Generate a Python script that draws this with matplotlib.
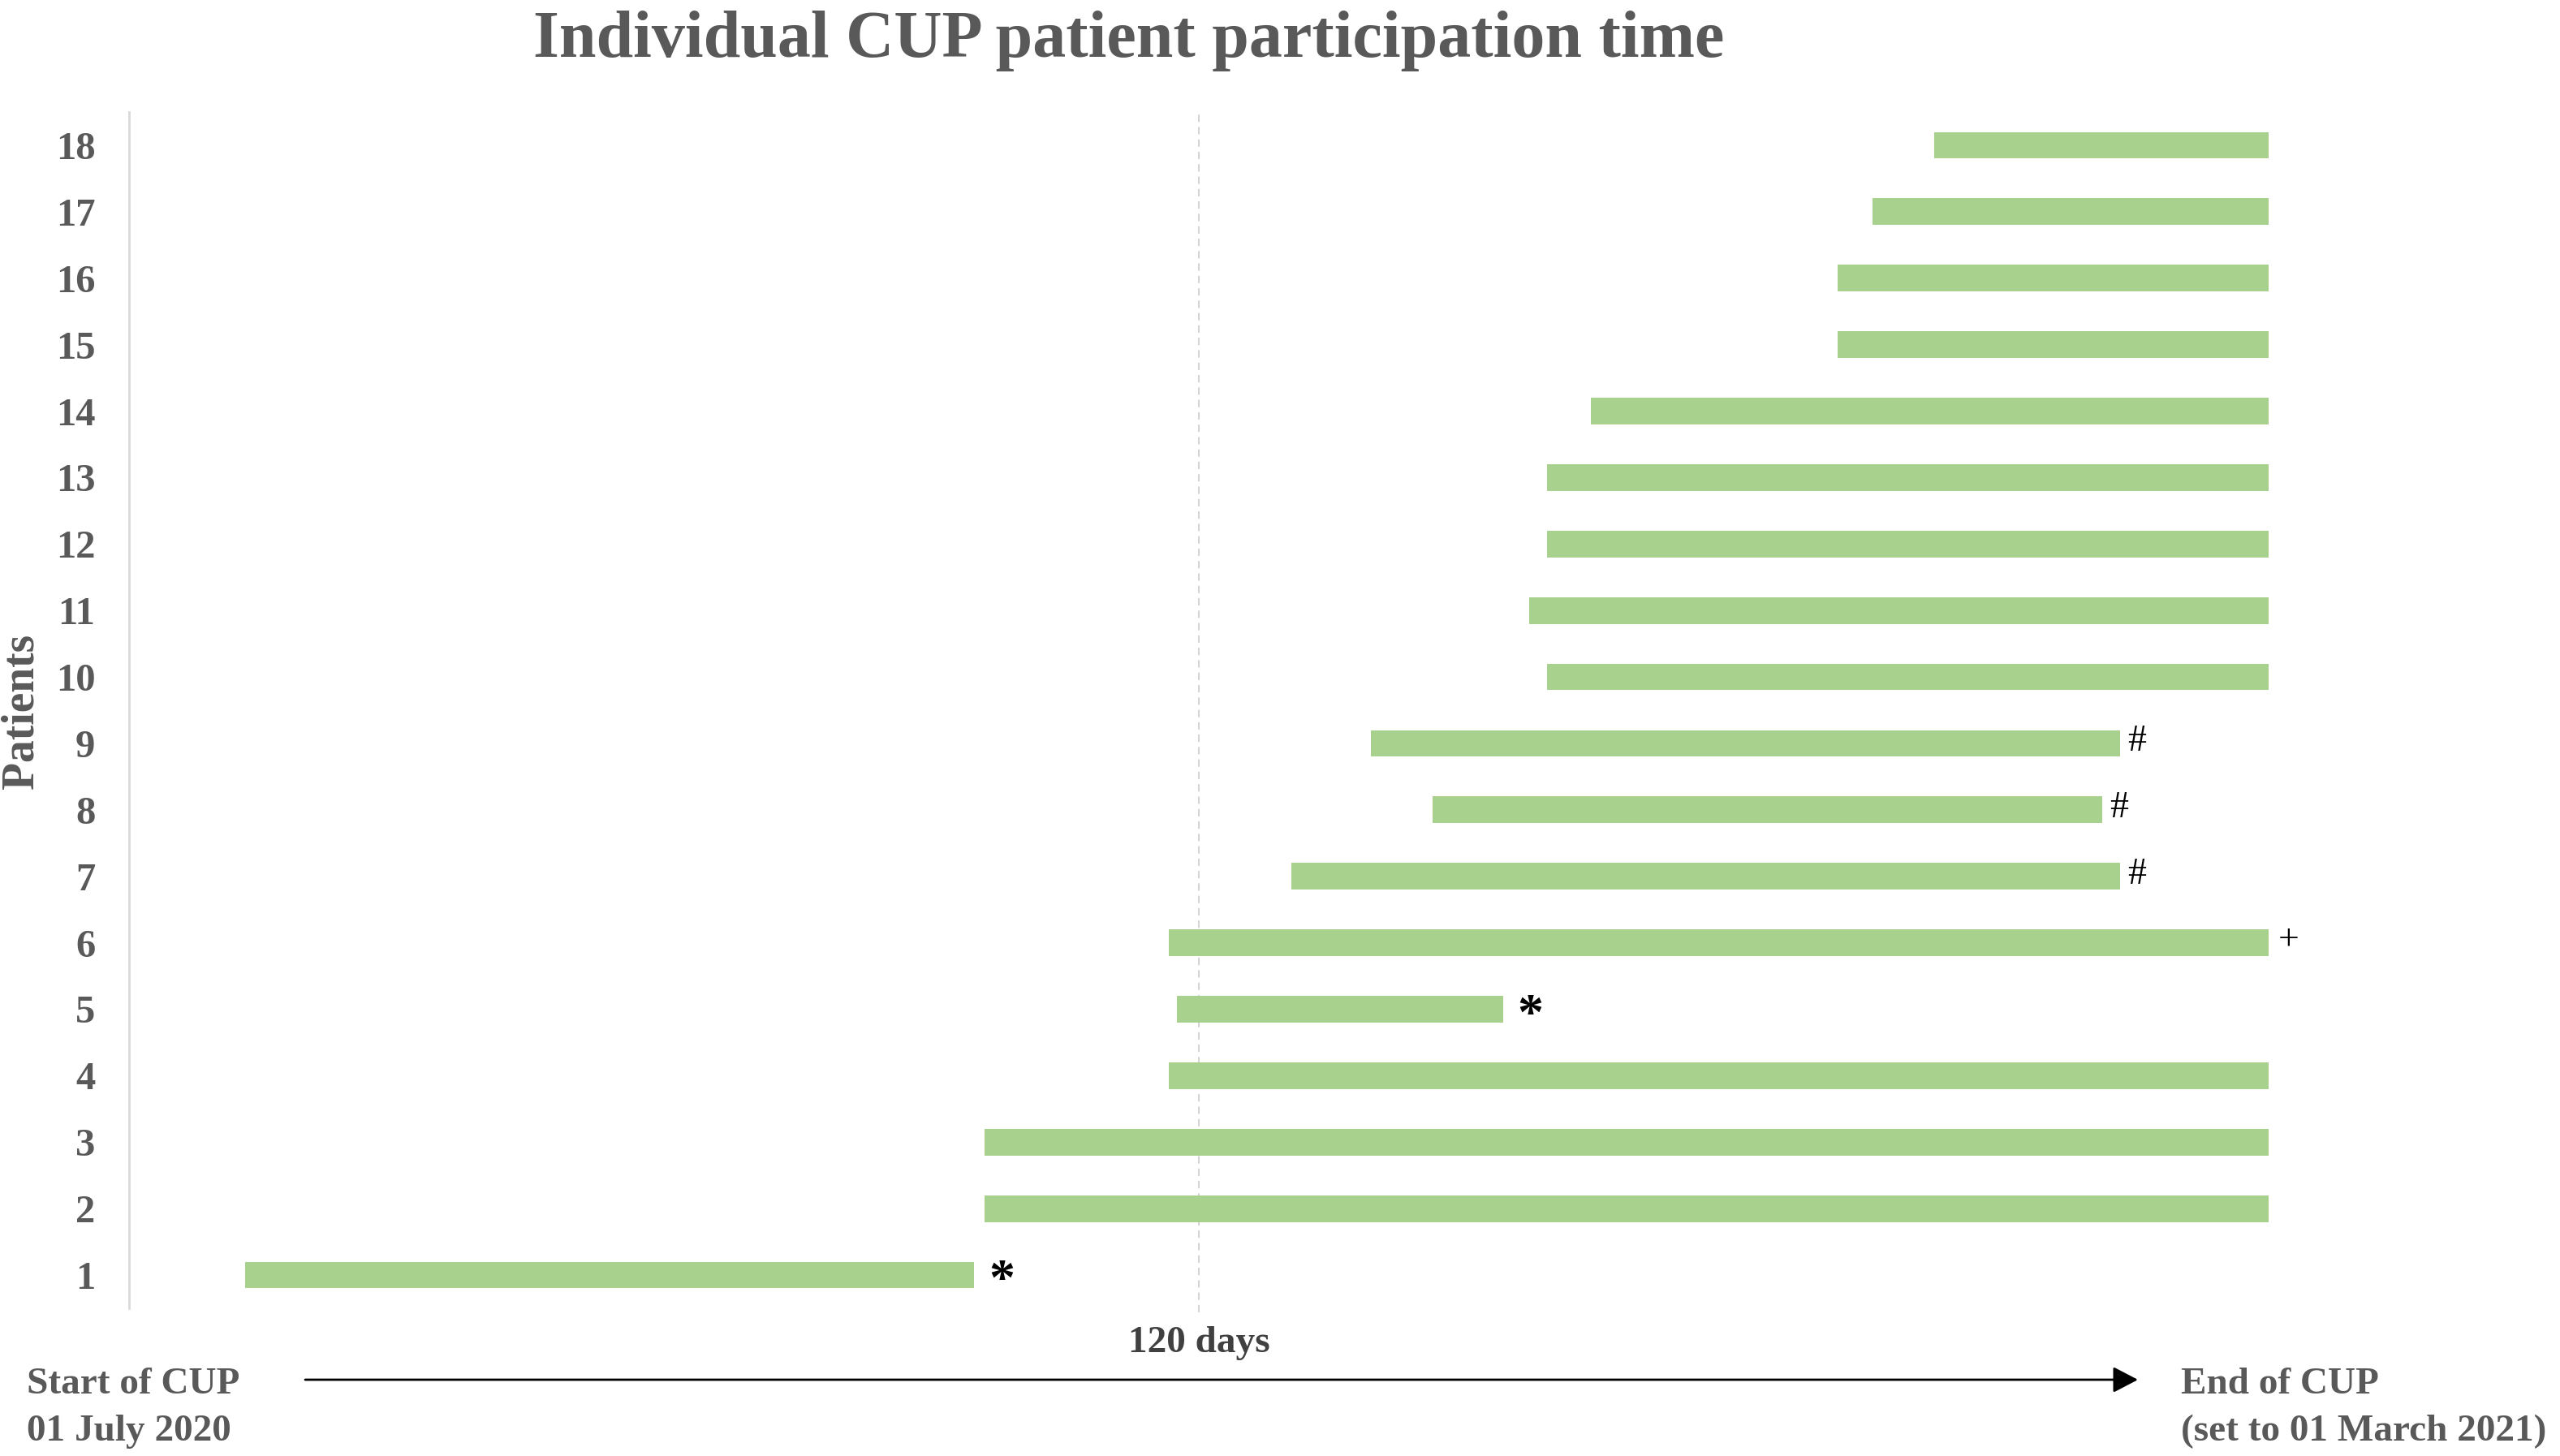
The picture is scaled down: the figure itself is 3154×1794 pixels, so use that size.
import matplotlib
matplotlib.use("Agg")
import matplotlib.pyplot as plt

# ---------------- data ----------------
patients = list(range(1, 19))
start_day = [13, 96, 96, 116.6, 117.5, 116.6, 130.4, 146.2, 139.3,
             159.1, 157.1, 159.1, 159.1, 164.0, 191.7, 191.7, 195.6, 202.5]
end_day = [94.8, 240, 240, 240, 154.1, 240, 223.3, 221.3, 223.3,
           240, 240, 240, 240, 240, 240, 240, 240, 240]
end_marks = ['*', '', '', '', '*', '+', '#', '#', '#',
             '', '', '', '', '', '', '', '', '']
cutoff_day = 120
title = "Individual CUP patient participation time"
ylabel = "Patients"
cutoff_label = "120 days"
start_label = "Start of CUP\n01 July 2020"
end_label = "End of CUP\n(set to 01 March 2021)"

# ---------------- style ----------------
W, H, DPI = 3154, 1794, 100
SERIF = ['Liberation Serif', 'DejaVu Serif']
GRAY = '#595959'
GREEN = '#a9d18e'

plt.rcParams['font.family'] = SERIF

fig = plt.figure(figsize=(W / DPI, H / DPI), dpi=DPI)
ax = fig.add_axes([159 / W, 1 - 1612 / H, 2745.8 / W, (1612 - 138) / H])

widths = [e - s for s, e in zip(start_day, end_day)]
ax.barh(patients, widths, left=start_day, height=0.40, color=GREEN, zorder=2)

ax.set_xlim(0, 250)
ax.set_ylim(0.5, 18.5)

# cutoff dashed line
ax.plot([cutoff_day, cutoff_day], [0.44, 18.5], color='#c8c8c8', lw=1.1,
        ls=(0, (6, 4)), zorder=1, clip_on=False)

# spines / ticks
for s in ['top', 'right', 'bottom']:
    ax.spines[s].set_visible(False)
ax.spines['left'].set_color('#d9d9d9')
ax.spines['left'].set_linewidth(2.0)
ax.set_xticks([])
ax.set_yticks(patients)
ax.set_yticklabels([str(p) for p in patients])
ax.tick_params(axis='y', length=0, pad=30, labelsize=35, labelcolor=GRAY)
for lab in ax.get_yticklabels():
    lab.set_fontweight('bold')

# end-of-bar markers
mark_style = {
    '#': dict(size=33, weight='normal', dx=10, dy=-9),
    '+': dict(size=33, weight='normal', dx=12, dy=-8),
    '*': dict(size=46, weight='bold', dx=18, dy=-24),
}
for p, e, m in zip(patients, end_day, end_marks):
    if not m:
        continue
    st = mark_style[m]
    ax.annotate(m, xy=(e, p), xytext=(st['dx'], st['dy']),
                textcoords='offset pixels', ha='left', va='baseline',
                fontsize=st['size'], fontweight=st['weight'], color='black',
                annotation_clip=False)

# title & labels
fig.text(1391 / W, 1 - 70 / H, title, ha='center', va='baseline',
         fontsize=59, fontweight='bold', color=GRAY)
fig.text(27 / W, 1 - 876 / H, ylabel, ha='center', va='center', rotation=90,
         fontsize=40, fontweight='bold', color=GRAY)

ax.annotate(cutoff_label, xy=(cutoff_day, 0), xycoords=('data', 'figure pixels'),
            xytext=(0, H - 1666), textcoords=('offset pixels', 'figure pixels'),
            ha='center', va='baseline', fontsize=34, fontweight='bold', color='#404040')

s1, s2 = start_label.split('\n')
fig.text(33 / W, 1 - 1717 / H, s1, ha='left', va='baseline',
         fontsize=34, fontweight='bold', color=GRAY)
fig.text(33 / W, 1 - 1775 / H, s2, ha='left', va='baseline',
         fontsize=34, fontweight='bold', color=GRAY)
e1, e2 = end_label.split('\n')
fig.text(2687 / W, 1 - 1717 / H, e1, ha='left', va='baseline',
         fontsize=34, fontweight='bold', color=GRAY)
fig.text(2687 / W, 1 - 1775 / H, e2, ha='left', va='baseline',
         fontsize=34, fontweight='bold', color=GRAY)

# timeline arrow
fig.patches.append(matplotlib.patches.FancyArrowPatch(
    (376 / W, 1 - 1700 / H), (2634 / W, 1 - 1700 / H),
    transform=fig.transFigure, arrowstyle='-|>,head_length=0.94,head_width=0.49',
    mutation_scale=20, lw=2.0, color='black', shrinkA=0, shrinkB=0))

fig.savefig('out.png', dpi=DPI, facecolor='white')
